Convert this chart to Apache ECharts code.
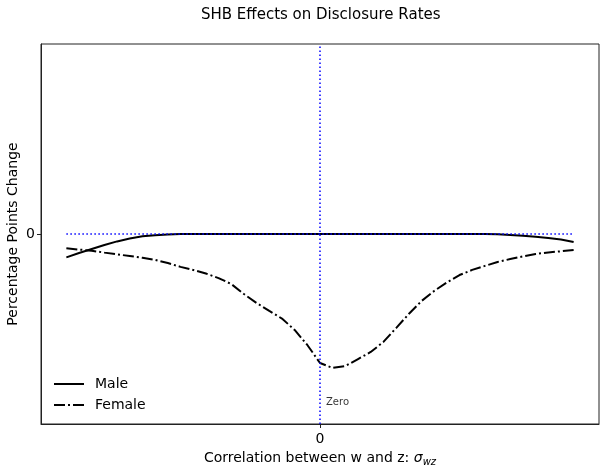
<!DOCTYPE html>
<html>
<head>
<meta charset="utf-8">
<script src="https://cdn.jsdelivr.net/npm/echarts@6/dist/echarts.min.js"></script>
<style>html,body{margin:0;padding:0;background:#fff;}#c{width:606px;height:474px;}</style>
</head>
<body>
<div id="c"></div>
<script>
const xValues = [-1,-0.95,-0.9,-0.85,-0.8,-0.75,-0.7,-0.65,-0.6,-0.55,-0.5,-0.45,-0.4,-0.35,-0.3,-0.25,-0.2,-0.15,-0.1,-0.05,0,0.05,0.1,0.15,0.2,0.25,0.3,0.35,0.4,0.45,0.5,0.55,0.6,0.65,0.7,0.75,0.8,0.85,0.9,0.95,1];
const maleValues = [-0.123,-0.100,-0.079,-0.058,-0.039,-0.024,-0.012,-0.006,-0.002,-0.0005,0,0,0,0,0,0,0,0,0,0,0,0,0,0,0,0,0,0,0,0,0,0,0,-0.0005,-0.0015,-0.005,-0.009,-0.015,-0.021,-0.029,-0.042];
const femaleValues = [-0.075,-0.082,-0.088,-0.098,-0.107,-0.116,-0.125,-0.136,-0.153,-0.173,-0.189,-0.208,-0.232,-0.263,-0.316,-0.363,-0.405,-0.445,-0.505,-0.584,-0.679,-0.705,-0.695,-0.658,-0.621,-0.568,-0.495,-0.421,-0.353,-0.300,-0.255,-0.216,-0.189,-0.168,-0.147,-0.132,-0.118,-0.105,-0.097,-0.091,-0.084];
const zeroLineX = [-1, 1];
const xTicks = [0];
const yTicks = [0];
const zeroLabelPos = [0, -0.885];

const font = 'DejaVu Sans';
const dashDot = [11, 3, 2, 3];
const chart = echarts.init(document.getElementById('c'), null, {renderer: 'canvas'});
const pair = (xs, ys) => xs.map((x, i) => [x, ys[i]]);

chart.setOption({
  animation: false,
  backgroundColor: '#fff',
  textStyle: {fontFamily: font},
  title: {
    text: 'SHB Effects on Disclosure Rates',
    left: 196, top: 3,
    textStyle: {fontFamily: font, fontSize: 15, fontWeight: 'normal', color: '#000'}
  },
  grid: {left: 41, right: 7, top: 44, bottom: 50, show: true, borderColor: '#222', borderWidth: 1, backgroundColor: 'transparent', outerBoundsMode: 'none', containLabel: false},
  legend: {
    orient: 'vertical', left: 48, top: 372, itemWidth: 30, itemHeight: 12, itemGap: 7,
    itemStyle: {opacity: 0},
    textStyle: {fontFamily: font, fontSize: 14, color: '#000', padding: [0,0,0,6]},
    data: [
      {name: 'Male', lineStyle: {type: 'solid', width: 2, color: '#000'}},
      {name: 'Female', lineStyle: {type: dashDot, width: 2, color: '#000'}}
    ]
  },
  xAxis: {
    type: 'value', min: -1.1, max: 1.1,
    name: '{a|Correlation between w and z: }{s|σ}{b|wz}',
    nameLocation: 'middle', nameGap: 26, nameMoveOverlap: false,
    nameTextStyle: {
      rich: {
        a: {fontFamily: font, fontSize: 14, color: '#000'},
        s: {fontFamily: font, fontSize: 14, fontStyle: 'italic', color: '#000'},
        b: {fontFamily: font, fontSize: 10, fontStyle: 'italic', color: '#000', verticalAlign: 'bottom', padding: [7,0,0,0]}
      }
    },
    axisLine: {show: true, onZero: false, lineStyle: {color: '#222', width: 1}},
    axisTick: {show: true, length: 4, lineStyle: {color: '#222'}, customValues: xTicks},
    axisLabel: {fontFamily: font, fontSize: 14, color: '#000', margin: 8, customValues: xTicks},
    splitLine: {show: false}
  },
  yAxis: {
    type: 'value', min: -1, max: 1,
    name: 'Percentage Points Change',
    nameLocation: 'middle', nameGap: 21, nameMoveOverlap: false,
    nameTextStyle: {fontFamily: font, fontSize: 14, color: '#000'},
    axisLine: {show: true, onZero: false, lineStyle: {color: '#222', width: 1}},
    axisTick: {show: true, length: 4, lineStyle: {color: '#222'}, customValues: yTicks},
    axisLabel: {fontFamily: font, fontSize: 14, color: '#000', margin: 6, customValues: yTicks},
    splitLine: {show: false}
  },
  series: [
    {
      name: 'Male', type: 'line', showSymbol: false, symbol: 'none', z: 3,
      data: pair(xValues, maleValues),
      lineStyle: {color: '#000', width: 2, type: 'solid'},
      itemStyle: {color: '#000'},
      markLine: {
        silent: true, symbol: 'none', label: {show: false},
        lineStyle: {color: '#0000ff', width: 1.5, type: [1.5, 2.5]},
        data: [{xAxis: 0}]
      }
    },
    {
      name: 'Female', type: 'line', showSymbol: false, symbol: 'none', z: 3,
      data: pair(xValues, femaleValues),
      lineStyle: {color: '#000', width: 2, type: dashDot},
      itemStyle: {color: '#000'}
    },
    {
      name: 'zeroline', type: 'line', showSymbol: false, symbol: 'none', z: 4,
      data: zeroLineX.map(x => [x, 0]),
      lineStyle: {color: '#0000ff', width: 1.5, type: [1.5, 2.5]}
    },
    {
      name: 'zerolabel', type: 'scatter', symbolSize: 0, z: 5,
      data: [zeroLabelPos],
      label: {show: true, formatter: 'Zero', position: 'right', distance: 6, fontFamily: font, fontSize: 10, color: '#000'}
    }
  ]
});
</script>
</body>
</html>
